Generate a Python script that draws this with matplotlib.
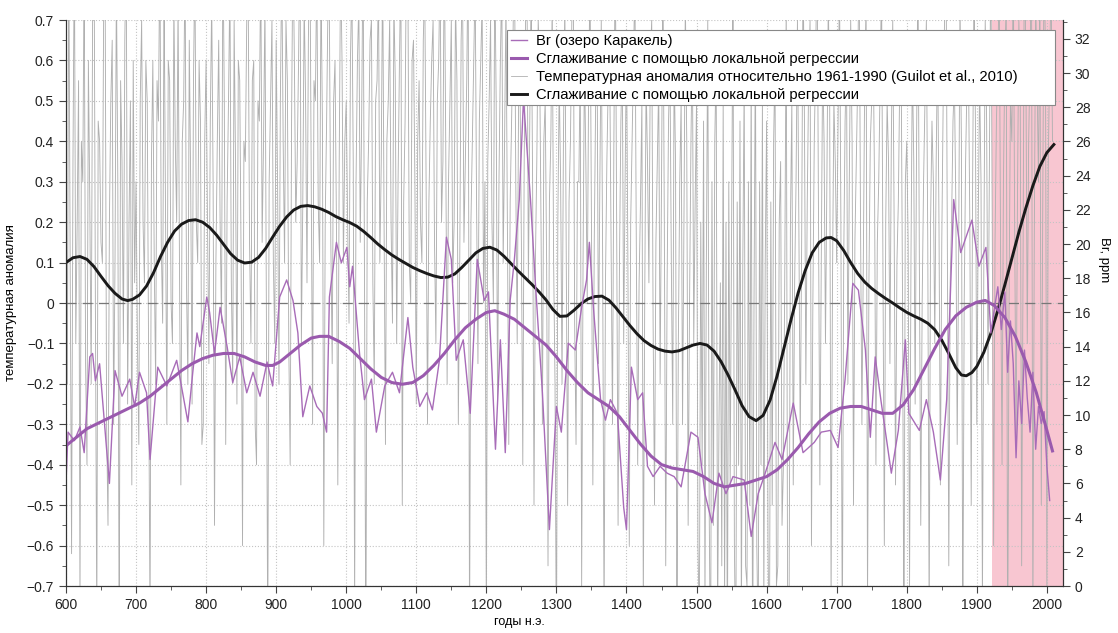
import numpy as np
import matplotlib
matplotlib.use('Agg')
import matplotlib.pyplot as plt
from matplotlib.ticker import MultipleLocator, FuncFormatter
from matplotlib.lines import Line2D

# ------------------------------------------------------------------------------
# temperature anomaly vs 1961-1990, 2-year steps from 600 AD
temp_600s = [0.45, -0.2, 0.9, 0.1, -0.62, 0.35, 0.9, -0.1, 0.2, 0.55,
             -0.75, 0.4, 0.3, 0.85, -0.15, -0.4, 0.6, 0.25, -0.2, 0.7,
             0.95, 0.0, -0.8, 0.45, 0.4, 0.15, 0.1, 0.8, 0.75, -0.3,
             -0.55, 0.2, 0.5, 0.65, -0.3, 0.1, 0.8, 0.3, -0.9, 0.55,
             0.35, -0.1, 0.65, 0.9, -0.25, 0.2, 0.5, -0.45, 0.6, 0.05]
temp_700s = [0.3, -0.1, -0.35, 0.5, 0.7, 0.2, 0.05, 0.6, 0.5, -0.15,
             -0.8, 0.35, 0.6, 0.1, -0.2, 0.55, 0.45, 0.9, 0.15, -0.05,
             0.8, 0.25, -0.3, 0.6, 0.55, 0.0, -0.1, 0.75, 0.4, 0.2,
             0.75, 0.1, -0.45, 0.4, 0.5, 0.85, 0.05, -0.2, 0.65, 0.3,
             -0.25, 0.55, 0.85, 0.2, 0.1, 0.6, 0.45, -0.35, -0.3, 0.4]
temp_800s = [0.6, 0.2, -0.15, 0.45, 0.75, 0.3, -0.55, 0.1, 0.4, 0.65,
             0.2, -0.05, 0.9, 0.5, -0.35, 0.25, 0.5, 0.8, 0.05, -0.2,
             0.7, 0.35, -0.25, 0.6, 0.55, 0.1, -0.6, 0.4, 0.35, 0.7,
             0.8, 0.15, -0.1, 0.55, 0.6, -0.3, -0.4, 0.5, 0.45, 0.85,
             0.15, 0.4, 0.75, 0.0, -0.85, 0.3, 0.5, 0.7, 0.1, -0.1]
temp_900s = [0.65, 0.3, -0.2, 0.5, 0.85, 0.4, 0.1, 0.7, 0.55, -0.1,
             -0.4, 0.45, 0.9, 0.6, 0.2, 0.35, 0.6, 0.95, -0.1, 0.25,
             0.75, 0.5, 0.05, 0.65, 0.95, 0.3, -0.3, 0.55, 0.5, 0.85,
             0.25, 0.1, 0.8, 0.45, -0.6, 0.2, 0.45, 0.75, 0.7, 0.15,
             -0.15, 0.5, 0.6, 0.2, -0.45, 0.35, 0.85, 0.6, 0.1, 0.4]
temp_1000s = [0.5, 0.2, -0.05, 0.6, 0.8, 0.35, -0.75, 0.3, 0.6, 0.75,
              0.15, 0.45, 0.9, 0.1, -0.9, 0.25, 0.4, 0.65, 0.7, 0.05,
              -0.2, 0.5, 0.55, 0.8, 0.1, 0.35, 0.85, 0.2, -0.35, 0.4,
              0.5, 0.7, 0.2, -0.05, 0.75, 0.55, -0.1, 0.3, 0.6, 0.85,
              -0.5, 0.25, 0.45, 0.9, 0.8, 0.1, 0.0, 0.6, 0.65, 0.3]
temp_1100s = [-0.25, 0.4, 0.55, 0.2, 0.1, 0.65, 0.8, 0.3, -0.3, 0.25,
              0.45, 0.6, 0.7, 0.15, -0.1, 0.5, 0.6, 0.85, 0.2, 0.35,
              0.9, 0.4, -0.2, 0.3, 0.5, 0.7, 0.05, 0.2, 0.75, 0.55,
              -0.3, 0.1, 0.65, 0.8, 0.15, 0.35, 0.55, 0.9, -0.85, 0.2,
              0.4, 0.6, 0.8, 0.25, -0.15, 0.45, 0.6, 0.75, 0.0, 0.3]
temp_1200s = [-0.8, 0.35, 0.5, 0.7, 0.2, 0.0, 0.85, 0.5, -0.25, 0.3,
              0.6, 0.8, 0.1, 0.4, 0.75, 0.2, -0.35, 0.25, 0.45, 0.65,
              0.9, 0.3, -0.1, 0.5, 0.55, 0.15, -0.4, 0.35, 0.7, 0.8,
              0.05, 0.45, 0.8, 0.3, -0.5, 0.1, 0.35, 0.7, 0.6, 0.2,
              -0.3, 0.4, 0.5, 0.1, -0.65, 0.25, 0.4, 0.75, 0.1, -0.2]
temp_1300s = [-0.9, 0.2, 0.55, 0.3, -0.2, 0.4, 0.75, 0.1, -0.5, 0.25,
              0.4, 0.7, 0.85, -0.05, -0.35, 0.3, 0.3, 0.6, -0.7, 0.1,
              0.6, 0.35, 0.0, 0.55, 0.8, 0.2, -0.45, 0.15, 0.5, 0.65,
              -0.15, 0.3, 0.7, 0.1, -0.8, 0.05, 0.35, 0.55, 0.6, 0.15,
              -0.3, 0.4, 0.9, 0.2, -0.55, 0.1, 0.45, 0.6, -0.1, 0.3]
temp_1400s = [0.65, 0.1, -0.6, 0.2, 0.4, 0.6, 0.8, 0.15, -0.4, 0.05,
              0.25, 0.5, -0.75, 0.0, 0.55, 0.35, 0.05, 0.6, 0.7, -0.05,
              -0.5, 0.15, 0.35, 0.55, -0.2, 0.3, 0.85, 0.2, -0.65, 0.05,
              0.45, 0.6, 0.1, -0.3, 0.6, 0.35, -0.85, -0.1, 0.3, 0.5,
              -0.3, 0.2, 0.75, 0.4, -0.55, 0.0, 0.4, 0.65, -0.1, 0.25]
temp_1500s = [0.5, -0.6, -0.8, 0.2, -0.4, 0.45, -0.75, 0.1, 0.7, -0.5,
              -0.95, 0.3, -0.55, 0.4, 0.6, -0.8, -0.3, 0.05, -0.65, 0.5,
              -0.75, 0.2, -0.9, 0.3, -0.45, 0.2, 0.8, -0.6, -0.9, 0.25,
              -0.4, 0.45, -0.8, 0.1, 0.55, -0.65, -0.7, 0.3, -0.5, 0.6,
              -0.95, 0.0, 0.65, -0.6, -0.85, 0.3, -0.4, 0.5, -0.75, 0.1]
temp_1600s = [0.45, -0.6, -0.9, 0.25, -0.5, 0.4, 0.6, -0.7, -0.65, 0.2,
              0.35, -0.55, -0.4, 0.1, 0.75, -0.8, -0.8, 0.2, 0.5, -0.45,
              0.05, 0.3, 0.7, 0.2, -0.35, 0.15, 0.85, 0.45, -0.2, 0.25,
              0.55, 0.7, -0.6, 0.0, 0.4, 0.6, 0.9, 0.25, -0.45, 0.1,
              0.6, 0.4, -0.1, 0.3, 0.75, 0.5, -0.75, 0.05, 0.5, 0.35]
temp_1700s = [0.1, 0.45, 0.8, 0.2, -0.85, 0.1, 0.45, 0.6, -0.2, 0.3,
              0.7, 0.4, -0.5, 0.15, 0.35, 0.55, 0.9, 0.2, -0.3, 0.1,
              0.55, 0.75, -0.75, 0.05, 0.4, 0.5, 0.65, 0.3, -0.4, 0.15,
              0.3, 0.55, 0.8, 0.1, -0.6, 0.2, 0.5, 0.35, -0.15, 0.4,
              0.7, 0.2, -0.45, 0.1, 0.25, 0.55, 0.6, 0.0, -0.9, 0.3]
temp_1800s = [0.4, 0.15, -0.7, 0.1, 0.6, 0.35, -0.25, 0.4, 0.85, 0.1,
              -0.55, 0.0, 0.3, 0.5, 0.7, 0.15, -0.8, 0.2, 0.45, 0.3,
              -0.1, 0.35, 0.65, 0.2, -0.45, 0.15, 0.5, 0.7, 0.9, 0.1,
              -0.65, 0.05, 0.2, 0.45, 0.55, 0.25, -0.35, 0.1, 0.75, 0.4,
              -0.85, 0.0, 0.35, 0.55, 0.6, 0.2, -0.5, 0.3, 0.8, 0.45]
temp_1900s = [-0.3, 0.2, 0.55, 0.3, -0.75, 0.1, 0.7, 0.45, -0.2, 0.35,
              0.9, 0.2, -0.6, 0.15, 0.45, 0.6, 0.8, 0.1, -0.4, 0.3,
              0.6, 0.75, -0.9, 0.0, 0.5, 0.4, 0.85, 0.2, -0.35, 0.25,
              0.7, 0.5, -0.65, 0.1, 0.95, 0.6, -0.1, 0.4, 0.6, 0.9,
              -0.8, 0.15, 0.75, 0.55, 0.3, 0.8, -0.5, 0.2, 0.9, 0.6,
              -0.7, 0.35, 0.6, 0.8, 0.4]

# local regression of the temperature anomaly
temp_smooth_years = [600, 610, 620, 630, 640, 650, 660, 670, 680, 688, 695, 705, 715, 725,
                     735, 745, 755, 765, 775, 785, 795, 805, 815, 825, 835, 845, 855, 865,
                     875, 885, 895, 905, 915, 925, 935, 945, 955, 965, 975, 985, 995, 1005,
                     1015, 1025, 1035, 1045, 1055, 1065, 1075, 1085, 1095, 1105, 1115, 1125,
                     1135, 1145, 1155, 1165, 1175, 1185, 1195, 1205, 1215, 1225, 1235, 1245,
                     1255, 1265, 1275, 1285, 1295, 1305, 1315, 1325, 1335, 1345, 1355, 1365,
                     1375, 1385, 1395, 1405, 1415, 1425, 1435, 1445, 1455, 1465, 1475, 1485,
                     1495, 1505, 1515, 1525, 1535, 1545, 1555, 1565, 1575, 1585, 1595, 1605,
                     1615, 1625, 1635, 1645, 1655, 1665, 1675, 1685, 1692, 1700, 1710, 1720,
                     1730, 1740, 1750, 1760, 1770, 1780, 1790, 1800, 1810, 1820, 1830, 1840,
                     1850, 1860, 1870, 1878, 1885, 1893, 1900, 1910, 1920, 1930, 1940, 1950,
                     1960, 1970, 1980, 1990, 2000, 2010]
temp_smooth = [0.100, 0.112, 0.115, 0.108, 0.090, 0.066, 0.043, 0.024, 0.010, 0.006, 0.009,
               0.020, 0.042, 0.075, 0.115, 0.150, 0.178, 0.195, 0.204, 0.206, 0.200, 0.187,
               0.168, 0.145, 0.122, 0.106, 0.099, 0.101, 0.113, 0.135, 0.163, 0.190, 0.213,
               0.230, 0.239, 0.241, 0.238, 0.232, 0.224, 0.214, 0.206, 0.199, 0.190, 0.177,
               0.162, 0.146, 0.132, 0.119, 0.108, 0.098, 0.088, 0.080, 0.073, 0.067, 0.063,
               0.064, 0.072, 0.088, 0.106, 0.124, 0.135, 0.138, 0.131, 0.116, 0.098, 0.080,
               0.063, 0.046, 0.028, 0.008, -0.016, -0.033, -0.032, -0.018, -0.002, 0.010,
               0.016, 0.017, 0.007, -0.012, -0.034, -0.056, -0.076, -0.093, -0.105, -0.114,
               -0.119, -0.121, -0.118, -0.111, -0.104, -0.100, -0.104, -0.119, -0.145,
               -0.178, -0.215, -0.254, -0.281, -0.291, -0.278, -0.240, -0.180, -0.110,
               -0.040, 0.025, 0.080, 0.124, 0.150, 0.161, 0.162, 0.154, 0.130, 0.100, 0.073,
               0.052, 0.036, 0.023, 0.011, 0.000, -0.012, -0.023, -0.032, -0.040, -0.050,
               -0.066, -0.092, -0.125, -0.160, -0.178, -0.180, -0.172, -0.157, -0.122,
               -0.075, -0.018, 0.045, 0.110, 0.175, 0.235, 0.290, 0.338, 0.372, 0.392]

# Br in Karakel lake sediments, ppm
br_years = [600, 603, 612, 620, 626, 634, 638, 642, 648, 655, 662, 670, 680, 691, 698, 705,
            715, 720, 731, 744, 758, 763, 774, 781, 787, 791, 801, 805, 812, 820, 830, 838,
            848, 858, 867, 877, 887, 895, 905, 915, 924, 931, 938, 948, 958, 966, 972, 976,
            986, 993, 1001, 1005, 1009, 1019, 1026, 1036, 1043, 1055, 1066, 1076, 1088, 1095,
            1105, 1115, 1123, 1133, 1143, 1150, 1157, 1167, 1177, 1187, 1197, 1203, 1213,
            1220, 1227, 1234, 1240, 1247, 1253, 1263, 1270, 1280, 1290, 1300, 1307, 1317,
            1327, 1336, 1343, 1347, 1353, 1363, 1370, 1377, 1387, 1396, 1400, 1407, 1416,
            1423, 1430, 1438, 1448, 1458, 1468, 1478, 1492, 1502, 1512, 1522, 1532, 1542,
            1552, 1568, 1578, 1588, 1598, 1612, 1622, 1638, 1652, 1668, 1678, 1691, 1702,
            1712, 1723, 1731, 1741, 1748, 1755, 1763, 1778, 1788, 1798, 1803, 1818, 1828,
            1838, 1848, 1857, 1867, 1877, 1893, 1903, 1913, 1920, 1925, 1930, 1935, 1940,
            1944, 1948, 1952, 1956, 1960, 1964, 1968, 1972, 1976, 1980, 1984, 1988, 1992,
            1996, 2000, 2004]
br_ppm = [6.0, 9.0, 8.5, 9.3, 7.8, 13.4, 13.6, 12.0, 13.0, 9.5, 6.0, 12.6, 11.1, 12.1, 10.5,
          12.5, 11.3, 7.4, 12.8, 11.7, 13.2, 12.1, 9.6, 12.5, 14.8, 14.0, 16.9, 16.0, 13.6,
          16.3, 14.0, 11.9, 13.4, 11.3, 12.5, 11.1, 13.1, 11.7, 16.9, 17.9, 16.7, 14.8, 9.9,
          11.7, 10.5, 10.1, 9.0, 16.9, 20.1, 18.9, 19.8, 17.5, 18.7, 13.6, 10.9, 12.1, 9.0,
          11.7, 12.5, 11.3, 15.7, 12.8, 10.5, 11.3, 10.3, 13.2, 20.4, 19.1, 13.2, 14.4, 10.1,
          19.1, 16.7, 17.2, 8.0, 14.4, 7.8, 16.7, 19.1, 22.6, 28.5, 22.6, 17.7, 11.3, 3.3,
          10.5, 9.0, 14.2, 13.8, 16.3, 17.9, 20.1, 16.2, 10.9, 9.7, 10.9, 10.1, 4.6, 3.3,
          12.8, 10.9, 11.3, 7.0, 6.4, 7.0, 6.6, 6.4, 5.8, 9.0, 8.7, 5.4, 3.7, 6.6, 5.4, 6.4,
          6.2, 2.9, 5.4, 6.6, 8.4, 7.4, 10.7, 7.8, 8.4, 9.0, 9.1, 8.1, 12.1, 17.7, 17.3, 13.8,
          8.7, 13.4, 10.9, 6.6, 9.1, 14.4, 10.1, 9.1, 10.9, 9.0, 6.2, 10.9, 22.6, 19.5, 21.4,
          18.7, 19.8, 14.8, 16.2, 17.5, 15.0, 17.2, 12.5, 15.5, 13.0, 7.5, 12.0, 9.5, 13.8,
          11.0, 9.0, 12.5, 8.0, 10.5, 9.5, 10.2, 7.0, 5.0]

# local regression of Br
br_smooth_years = [600, 615, 630, 645, 660, 675, 690, 705, 720, 735, 750, 765, 780, 795,
                   810, 825, 840, 855, 870, 885, 895, 905, 920, 935, 950, 962, 975, 990,
                   1005, 1020, 1035, 1050, 1065, 1080, 1095, 1110, 1125, 1140, 1155, 1170,
                   1185, 1200, 1212, 1225, 1240, 1255, 1270, 1285, 1300, 1315, 1330, 1345,
                   1360, 1375, 1390, 1405, 1420, 1435, 1450, 1465, 1480, 1495, 1510, 1525,
                   1540, 1555, 1570, 1585, 1600, 1615, 1630, 1645, 1660, 1675, 1690, 1705,
                   1720, 1735, 1750, 1765, 1780, 1795, 1810, 1825, 1840, 1855, 1870, 1885,
                   1900, 1912, 1925, 1940, 1955, 1970, 1985, 1998, 2008]
br_smooth = [8.2, 8.7, 9.2, 9.5, 9.8, 10.1, 10.4, 10.7, 11.1, 11.6, 12.1, 12.6, 13.0, 13.3,
             13.5, 13.6, 13.6, 13.4, 13.1, 12.9, 12.9, 13.1, 13.6, 14.1, 14.5, 14.6, 14.6,
             14.3, 13.9, 13.3, 12.7, 12.2, 11.9, 11.8, 11.9, 12.3, 12.9, 13.6, 14.4, 15.1,
             15.6, 16.0, 16.1, 15.9, 15.6, 15.1, 14.6, 14.1, 13.4, 12.6, 11.9, 11.3, 10.9,
             10.5, 9.9, 9.1, 8.3, 7.6, 7.1, 6.9, 6.8, 6.7, 6.4, 6.0, 5.8, 5.9, 6.0, 6.2, 6.4,
             6.8, 7.4, 8.1, 8.9, 9.6, 10.1, 10.4, 10.5, 10.5, 10.3, 10.1, 10.1, 10.6, 11.5,
             12.7, 13.9, 15.0, 15.8, 16.3, 16.6, 16.7, 16.4, 15.7, 14.6, 13.1, 11.3, 9.4, 7.9]

pink_span = [1921, 2023]

legend_labels = ['Br (озеро Каракель)',
                 'Сглаживание с помощью локальной регрессии',
                 'Температурная аномалия относительно 1961-1990 (Guilot et al., 2010)',
                 'Сглаживание с помощью локальной регрессии']

# ------------------------------------------------------------------------------

def setRCParameters():

    plt.rcParams['font.family'] = ['Liberation Sans', 'DejaVu Sans']
    plt.rcParams['font.size'] = 10
    plt.rcParams['axes.edgecolor'] = '#333333'
    plt.rcParams['xtick.color'] = '#444444'
    plt.rcParams['ytick.color'] = '#444444'
    plt.rcParams['xtick.labelcolor'] = '#222222'
    plt.rcParams['ytick.labelcolor'] = '#222222'

def tempFormatter(v, pos):

    if abs(v) < 1e-9:
        return '0'
    return ('%.1f' % v).replace('-', '\u2212')

def doPlot():

    temp_anom = (temp_600s + temp_700s + temp_800s + temp_900s + temp_1000s + temp_1100s +
                 temp_1200s + temp_1300s + temp_1400s + temp_1500s + temp_1600s +
                 temp_1700s + temp_1800s + temp_1900s)
    temp_years = 600 + 2 * np.arange(len(temp_anom))

    fig = plt.figure(figsize = (11.18, 6.33), dpi = 100)
    ax1 = fig.add_axes([0.059, 0.0742, 0.8918, 0.8942])
    ax2 = ax1.twinx()

    purple_thin = '#a86cb8'
    purple_thick = '#9a5aae'
    gray = '#b0b0b0'

    ax1.axvspan(pink_span[0], pink_span[1], color = '#f8c6d1', lw = 0, zorder = 0)
    ax1.set_axisbelow(True)
    ax1.grid(True, which = 'major', color = '#c4c4c4', linestyle = ':', linewidth = 0.8)

    ax1.plot(temp_years, temp_anom, color = gray, lw = 0.65, zorder = 1)
    ax1.axhline(0, color = '#777777', lw = 0.9, linestyle = (0, (8, 5)), zorder = 2)
    ax1.plot(temp_smooth_years, temp_smooth, color = '#1a1a1a', lw = 2.1, zorder = 3)

    ax2.plot(br_years, br_ppm, color = purple_thin, lw = 1.0)
    ax2.plot(br_smooth_years, br_smooth, color = purple_thick, lw = 2.2)

    ax1.set_xlim(600, 2023)
    ax1.set_ylim(-0.7, 0.7)
    ax2.set_ylim(0, 33.1)

    ax1.xaxis.set_major_locator(MultipleLocator(100))
    ax1.xaxis.set_minor_locator(MultipleLocator(50))
    ax1.yaxis.set_major_locator(MultipleLocator(0.1))
    ax1.yaxis.set_minor_locator(MultipleLocator(0.05))
    ax1.yaxis.set_major_formatter(FuncFormatter(tempFormatter))
    ax2.yaxis.set_major_locator(MultipleLocator(2))
    ax2.yaxis.set_minor_locator(MultipleLocator(1))

    for ax in (ax1, ax2):
        ax.tick_params(which = 'major', direction = 'out', length = 5, width = 0.8, labelsize = 10)
        ax.tick_params(which = 'minor', direction = 'out', length = 3, width = 0.6)
        ax.spines['top'].set_visible(False)

    ax1.set_xlabel('годы н.э.', fontsize = 9)
    ax1.xaxis.set_label_coords(0.455, -0.053)
    ax1.set_ylabel('температурная аномалия', fontsize = 9.5)
    ax1.yaxis.set_label_coords(-0.049, 0.5)
    ax2.set_ylabel('Br, ppm', rotation = 270, va = 'bottom', fontsize = 9.5)
    ax2.yaxis.set_label_coords(1.035, 0.576)

    handles = [Line2D([], [], color = purple_thin, lw = 1.0),
               Line2D([], [], color = purple_thick, lw = 2.2),
               Line2D([], [], color = gray, lw = 0.6),
               Line2D([], [], color = '#1a1a1a', lw = 2.1)]
    # legend box stretched over a fixed span of the upper right corner
    leg = ax2.legend(handles, legend_labels, loc = 'upper left',
                     bbox_to_anchor = (0.4423, 0.982, 0.5497, 0.0), mode = 'expand',
                     fontsize = 10.6, frameon = True, fancybox = False, framealpha = 1,
                     edgecolor = '#888888', handlelength = 1.1, handletextpad = 0.6,
                     labelspacing = 0.27, borderpad = 0.25, borderaxespad = 0.0)
    leg.get_frame().set_linewidth(0.8)

    return fig

# ------------------------------------------------------------------------------

def main():

    setRCParameters()
    fig = doPlot()
    fig.savefig('out.png', dpi = 100)

if __name__ == '__main__':
    main()
